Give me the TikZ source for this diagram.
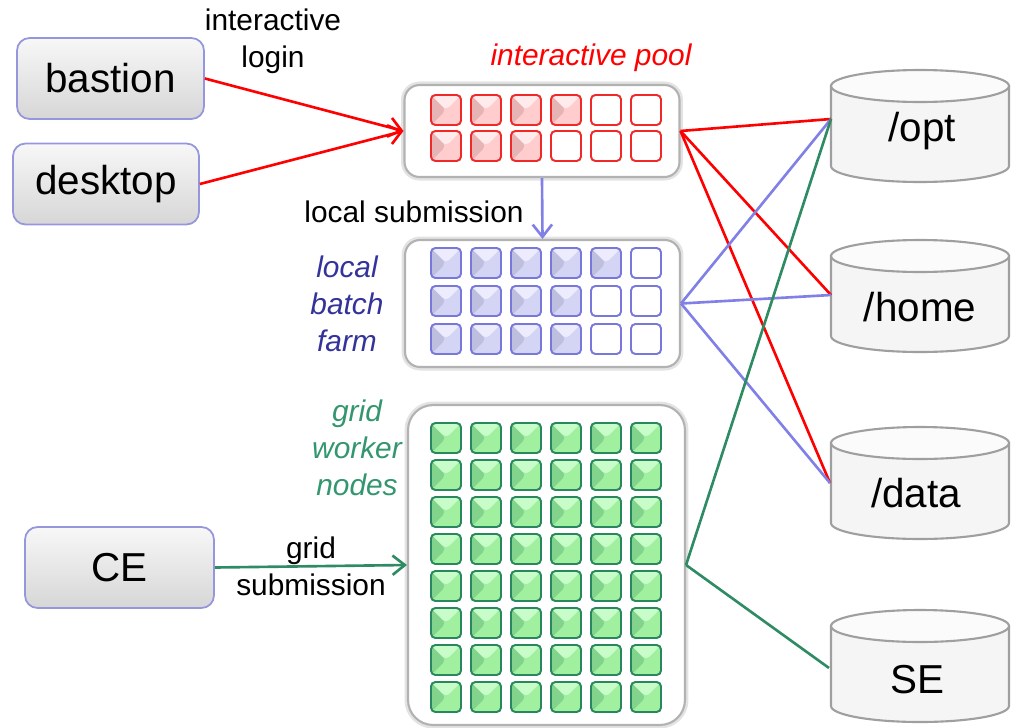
\documentclass[tikz,border=0pt]{standalone}
\usepackage{fontspec}
\setmainfont{Liberation Sans}
\usetikzlibrary{arrows.meta}

\definecolor{linkred}{RGB}{255,0,0}
\definecolor{linkblue}{RGB}{128,128,230}
\definecolor{linkgreen}{RGB}{46,139,100}
\definecolor{farmtext}{RGB}{51,51,153}
\definecolor{gridtext}{RGB}{51,150,110}
\definecolor{hostedge}{RGB}{150,150,220}
\definecolor{pooledge}{RGB}{240,40,40}
\definecolor{poolbase}{RGB}{255,205,205}
\definecolor{pooldark}{RGB}{230,180,180}
\definecolor{poollight}{RGB}{255,235,235}
\definecolor{farmedge}{RGB}{120,120,220}
\definecolor{farmbase}{RGB}{212,212,245}
\definecolor{farmdark}{RGB}{190,190,222}
\definecolor{farmlight}{RGB}{236,236,252}
\definecolor{gridedge}{RGB}{40,135,95}
\definecolor{gridbase}{RGB}{160,240,160}
\definecolor{griddark}{RGB}{130,212,140}
\definecolor{gridlight}{RGB}{200,252,200}

\tikzset{
  bigtext/.style={font=\fontsize{23}{28}\selectfont},
  note/.style={font=\fontsize{17}{21}\selectfont, align=center},
  host/.style={bigtext, draw=hostedge, line width=1pt, rounded corners=0.25cm,
    top color=gray!6, bottom color=gray!32, minimum width=#1, minimum height=1.62cm},
  cluster/.style 2 args={draw=gray!60, line width=1.2pt, fill=white, rounded corners=0.3cm,
    minimum width=#1, minimum height=#2, preaction={draw=gray!22, line width=4pt}},
  fullcell/.style={draw=#1edge, line width=1.1pt, fill=#1base, rounded corners=2.5pt,
    minimum size=0.6cm, inner sep=0pt, path picture={
      \fill[#1dark] (path picture bounding box.north west) -- (path picture bounding box.center)
        -- (path picture bounding box.south west) -- cycle;
      \fill[#1light] (path picture bounding box.north west) -- (path picture bounding box.center)
        -- (path picture bounding box.north east) -- cycle;}},
  emptycell/.style={draw=#1edge, line width=1.1pt, fill=white, rounded corners=2.5pt,
    minimum size=0.6cm, inner sep=0pt},
  link/.style={draw=#1, line width=1.5pt},
  arrowed/.style={-{Straight Barb[length=7pt,width=11pt]}},
}

\begin{document}
\begin{tikzpicture}[x=0.02cm, y=-0.02cm]
  \useasboundingbox (0,0) rectangle (1011,727);

  % hosts on the left
  \node[host=3.74cm] (bastion) at (110.5,78.5) {bastion};
  \node[host=3.72cm] (desktop) at (106,184) {desktop};
  \node[host=3.78cm] (ce) at (119.5,567.5) {CE};

  % the three pools of slots
  \node[cluster={5.5cm}{1.84cm}] (ipool) at (542,131) {};
  \node[cluster={5.5cm}{2.54cm}] (farm) at (542.5,303.5) {};
  \node[cluster={5.54cm}{6.4cm}, rounded corners=0.5cm] (wn) at (546.5,565) {};

  \foreach \r/\k in {1/4,2/3} {
    \foreach \c in {1,...,\k}
      \node[fullcell=pool] (p-\r-\c) at ({406+40*\c},{74+36*\r}) {};
    \pgfmathtruncatemacro\m{\k+1}
    \foreach \c in {\m,...,6}
      \node[emptycell=pool] (p-\r-\c) at ({406+40*\c},{74+36*\r}) {};
  }
  \foreach \r/\k in {1/5,2/4,3/4} {
    \foreach \c in {1,...,\k}
      \node[fullcell=farm] (b-\r-\c) at ({406+40*\c},{225+38*\r}) {};
    \pgfmathtruncatemacro\m{\k+1}
    \foreach \c in {\m,...,6}
      \node[emptycell=farm] (b-\r-\c) at ({406+40*\c},{225+38*\r}) {};
  }
  \foreach \r in {1,...,8}
    \foreach \c in {1,...,6}
      \node[fullcell=grid] (g-\r-\c) at ({406+40*\c},{401+37*\r}) {};

  % storage
  \foreach \t in {86,256,443,626} {
    \filldraw[draw=gray!75, line width=1.2pt, fill=gray!8] (831,\t) -- (831,\t+80)
      arc[start angle=180, end angle=360, x radius=1.78cm, y radius=0.32cm] -- (1009,\t) -- cycle;
    \filldraw[draw=gray!75, line width=1.2pt, fill=gray!3] (920,\t) ellipse[x radius=1.78cm, y radius=0.32cm];
  }
  \node[bigtext] (opt) at (922,131) {/opt};
  \node[bigtext] (home) at (920,307) {/home};
  \node[bigtext] (data) at (916,493) {/data};
  \node[bigtext] (se) at (917,680) {SE};
  \coordinate (opt-in) at (831,119);
  \coordinate (home-in) at (831,295);
  \coordinate (data-in) at (830,483);
  \coordinate (se-in) at (829,668);

  % labels
  \node[note] (login) at (273,41) {interactive\\login};
  \node[note, text=linkred, font=\fontsize{17}{21}\selectfont\itshape] (pooltitle) at (591,58) {interactive pool};
  \node[note] (localsub) at (414,212) {local submission};
  \node[note, text=farmtext, font=\fontsize{17}{21}\selectfont\itshape] (farmtitle) at (347,304) {local\\batch\\farm};
  \node[note, text=gridtext, font=\fontsize{17}{21}\selectfont\itshape] (gridtitle) at (357,448) {grid\\worker\\nodes};
  \node[note] (gridsub) at (311,566) {grid\\submission};

  % connectors
  \draw[link=linkred, arrowed] (bastion.east) -- (ipool.west);
  \draw[link=linkred, arrowed] (desktop.east) -- (ipool.west);
  \draw[link=linkblue, arrowed] (ipool.south) -- (farm.north);
  \draw[link=linkgreen, arrowed] (ce.east) -- (wn.west);
  \draw[link=linkred] (ipool.east) -- (opt-in);
  \draw[link=linkred] (ipool.east) -- (home-in);
  \draw[link=linkred] (ipool.east) -- (data-in);
  \draw[link=linkblue] (farm.east) -- (opt-in);
  \draw[link=linkblue] (farm.east) -- (home-in);
  \draw[link=linkblue] (farm.east) -- (data-in);
  \draw[link=linkgreen] (wn.east) -- (opt-in);
  \draw[link=linkgreen] (wn.east) -- (se-in);
\end{tikzpicture}
\end{document}
